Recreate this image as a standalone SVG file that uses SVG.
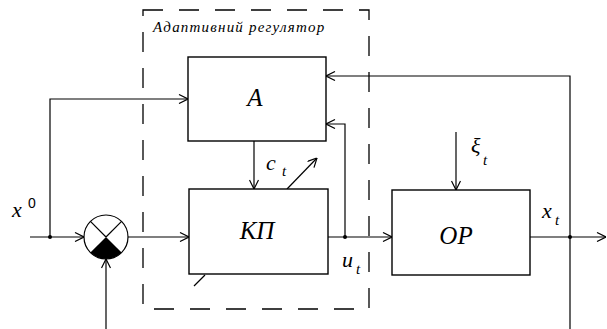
<svg xmlns="http://www.w3.org/2000/svg" width="607" height="329" viewBox="0 0 607 329">
<defs>
<style>
.ln{stroke:#000;stroke-width:1.2;fill:none}
.bx{stroke:#000;stroke-width:1.4;fill:#fff}
.sf{font-family:'Liberation Serif','DejaVu Serif',serif;font-style:italic}
</style>
<marker id="ar" viewBox="0 0 10 10" refX="10" refY="5" markerWidth="10" markerHeight="10" markerUnits="userSpaceOnUse" orient="auto">
<path d="M1,0.5 L10,5 L1,9.5" fill="none" stroke="#000" stroke-width="1.2"/>
</marker>
</defs>
<rect width="607" height="329" fill="#fff"/>
<g id="frame">
<rect x="143" y="10" width="226" height="299" fill="none" stroke="#000" stroke-width="1.3" stroke-dasharray="20 16"/>
<text class="sf" x="153" y="32" font-size="15" letter-spacing="1.2">Адаптивний  регулятор</text>
</g>
<g id="connectors">
<line class="ln" x1="30" y1="237" x2="84" y2="237" marker-end="url(#ar)"/>
<polyline class="ln" points="50,237 50,99 188,99" marker-end="url(#ar)"/>
<line class="ln" x1="106" y1="329" x2="106" y2="259" marker-end="url(#ar)"/>
<line class="ln" x1="128" y1="237" x2="189" y2="237" marker-end="url(#ar)"/>
<line class="ln" x1="254" y1="141" x2="254" y2="189" marker-end="url(#ar)"/>
<line class="ln" x1="287" y1="189" x2="317" y2="158" marker-end="url(#ar)"/>
<line class="ln" x1="194" y1="286" x2="205" y2="275"/>
<line class="ln" x1="328" y1="237" x2="392" y2="237" marker-end="url(#ar)"/>
<polyline class="ln" points="345,237 345,124 326,124" marker-end="url(#ar)"/>
<line class="ln" x1="456" y1="132" x2="456" y2="190" marker-end="url(#ar)"/>
<line class="ln" x1="530" y1="237" x2="606" y2="237" marker-end="url(#ar)"/>
<polyline class="ln" points="570,329 570,76 326,76" marker-end="url(#ar)"/>
<circle cx="50" cy="237" r="2" fill="#000"/>
<circle cx="345" cy="237" r="2" fill="#000"/>
<circle cx="570" cy="237" r="2" fill="#000"/>
</g>
<g id="sum">
<circle cx="106" cy="237" r="22" fill="#fff" stroke="#000" stroke-width="1.2"/>
<path d="M106,237 L121.56,252.56 A22,22 0 0 1 90.44,252.56 Z" fill="#000"/>
<line class="ln" x1="106" y1="237" x2="90.44" y2="221.44"/>
<line class="ln" x1="106" y1="237" x2="121.56" y2="221.44"/>
</g>
<g id="A">
<rect class="bx" x="188" y="57" width="138" height="84"/>
<text class="sf" x="255" y="106" font-size="25" text-anchor="middle">A</text>
</g>
<g id="KP">
<rect class="bx" x="189" y="189" width="139" height="85"/>
<text class="sf" x="257" y="239" font-size="25" text-anchor="middle">КП</text>
</g>
<g id="OR">
<rect class="bx" x="392" y="190" width="138" height="85"/>
<text class="sf" x="456" y="244" font-size="25" text-anchor="middle">ОР</text>
</g>
<g id="labels">
<text class="sf" x="12" y="217" font-size="22">x</text>
<text x="28" y="208" font-size="14" font-family="'Liberation Sans',sans-serif">0</text>
<text class="sf" x="266" y="170" font-size="22">c</text>
<text class="sf" x="282" y="176" font-size="15">t</text>
<text class="sf" x="342" y="267" font-size="22">u</text>
<text class="sf" x="356" y="274" font-size="15">t</text>
<text class="sf" x="542" y="218" font-size="22">x</text>
<text class="sf" x="555" y="225" font-size="15">t</text>
<text class="sf" x="471" y="153" font-size="22">ξ</text>
<text class="sf" x="483" y="165" font-size="15">t</text>
</g>
</svg>
